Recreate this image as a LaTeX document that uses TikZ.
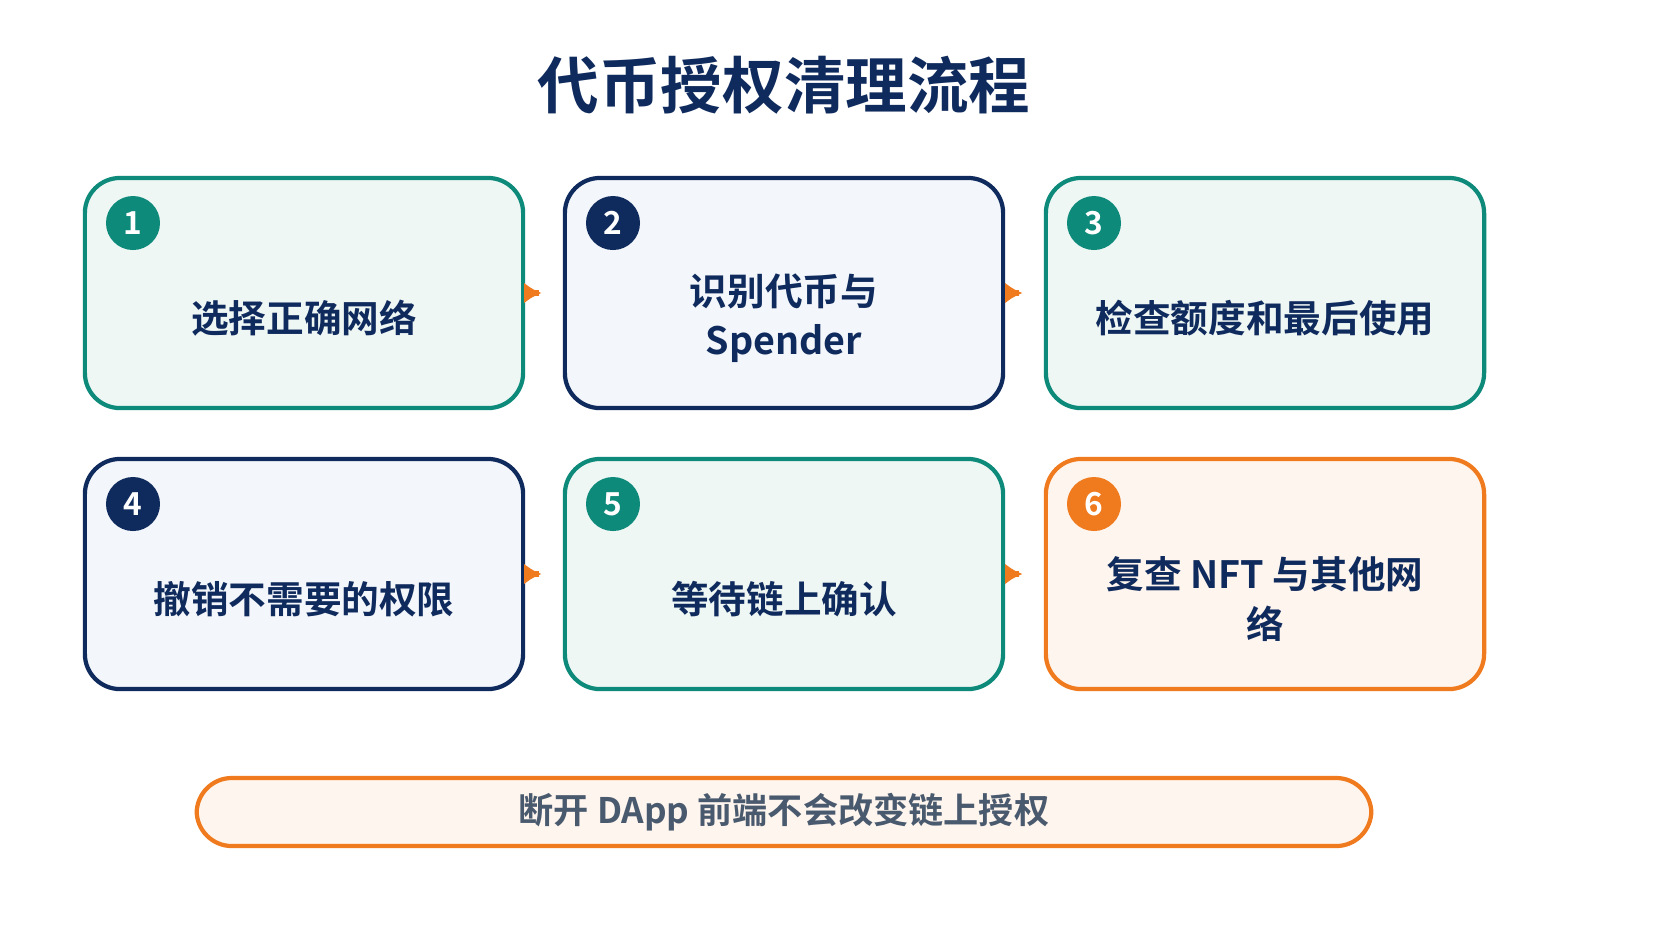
\documentclass[tikz,border=0pt]{standalone}
\usepackage{fontspec}
\usetikzlibrary{arrows.meta}
\setmainfont{Noto Sans CJK SC Bold}
\definecolor{teal}{HTML}{0E8A7A}
\definecolor{navy}{HTML}{0F2A5C}
\definecolor{orng}{HTML}{F07A1E}
\definecolor{tealbg}{HTML}{EFF7F5}
\definecolor{navybg}{HTML}{F3F7FC}
\definecolor{orngbg}{HTML}{FEF5EE}
\definecolor{greytxt}{HTML}{4A5A6E}
\begin{document}
\begin{tikzpicture}[x=0.01cm,y=-0.01cm]
\tikzset{
 step/.style={draw=#1, line width=1.2pt, rounded corners=10pt, minimum width=4.38cm, minimum height=2.3cm},
 lbl/.style={text=navy, font=\fontsize{10.7}{14}\selectfont, align=center},
 num/.style={circle, fill=#1, minimum size=0.54cm, inner sep=0pt, text=white, font=\fontsize{9}{10}\selectfont},
 flow/.style={-{Latex[length=5pt,width=6pt]}, orng, line width=1.5pt}}
\node[text=navy, font=\fontsize{17.5}{21}\selectfont] (title) at (784,85) {代币授权清理流程};

\node[step=teal, fill=tealbg] (s1) at (304,293) {};
\node[step=navy, fill=navybg] (s2) at (784,293) {};
\node[step=teal, fill=tealbg] (s3) at (1265,293) {};
\node[step=navy, fill=navybg] (s4) at (304,574) {};
\node[step=teal, fill=tealbg] (s5) at (784,574) {};
\node[step=orng, fill=orngbg] (s6) at (1265,574) {};

\node[num=teal] (n1) at (133,223) {1};
\node[num=navy] (n2) at (613,223) {2};
\node[num=teal] (n3) at (1094,223) {3};
\node[num=navy] (n4) at (133,504) {4};
\node[num=teal] (n5) at (613,504) {5};
\node[num=orng] (n6) at (1094,504) {6};

\node[lbl] (t1) at (304,318) {选择正确网络};
\node[lbl] (t2) at (784,318) {识别代币与\\Spender};
\node[lbl] (t3) at (1265,318) {检查额度和最后使用};
\node[lbl] (t4) at (304,599) {撤销不需要的权限};
\node[lbl] (t5) at (784,599) {等待链上确认};
\node[lbl] (t6) at (1265,599) {复查 NFT 与其他网\\络};

\draw[flow] ([xshift=4]s1.east) -- ([xshift=-6]s2.west);
\draw[flow] ([xshift=4]s2.east) -- ([xshift=-6]s3.west);
\draw[flow] ([xshift=4]s4.east) -- ([xshift=-6]s5.west);
\draw[flow] ([xshift=4]s5.east) -- ([xshift=-6]s6.west);

\node[draw=orng, fill=orngbg, line width=1.2pt, rounded corners=10pt, minimum width=11.74cm, minimum height=0.68cm, text=greytxt, font=\fontsize{10}{12}\selectfont] (note) at (784,812) {断开 DApp 前端不会改变链上授权};
\pgfresetboundingbox
\useasboundingbox (0,0) rectangle (1672,941);
\end{tikzpicture}
\end{document}
